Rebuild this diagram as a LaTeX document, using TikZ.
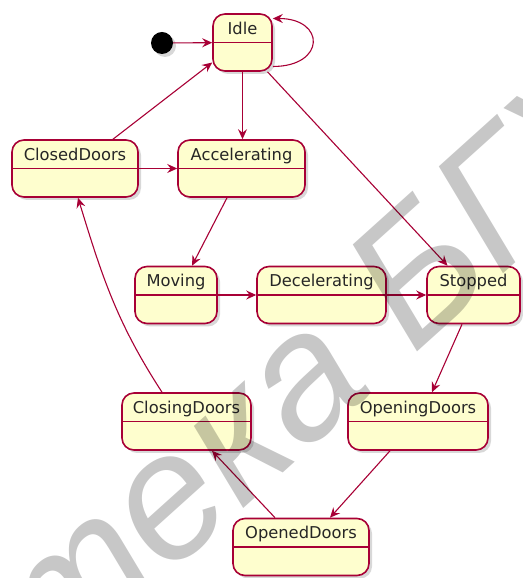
\documentclass[tikz,border=0pt]{standalone}
\usepackage{fontspec}
\setmainfont{DejaVu Sans}
\newfontfamily\wmfont{Liberation Sans}
\usetikzlibrary{arrows.meta,shadows,calc}
\definecolor{umlred}{HTML}{A80036}
\definecolor{umlfill}{HTML}{FEFECE}
\newcommand\umlstate[5]{%
  \node[statebox, minimum width=#4pt] (#1) at (#2,#3) {};
  \node[lbl, anchor=base] (#1-t) at ($(#1.center)+(0,8)$) {#5};
  \draw[divider] (#1.west) -- (#1.east);
}
\begin{document}
\begin{tikzpicture}[x=1pt,y=1pt,
  statebox/.style={draw=umlred, line width=1.6pt, fill=umlfill, rounded corners=12pt,
    minimum height=57pt, inner sep=0pt,
    drop shadow={shadow xshift=3pt,shadow yshift=-3pt,opacity=0.3}},
  divider/.style={draw=umlred, line width=1.2pt},
  arr/.style={draw=umlred, line width=1.1pt, -{Stealth[length=10pt,width=9pt,inset=3.5pt]}},
  lbl/.style={font=\fontsize{16.3}{18}\selectfont, text=black!85, inner sep=0pt},
  initdot/.style={circle, fill=black, minimum size=22pt, inner sep=0pt,
    drop shadow={shadow xshift=3pt,shadow yshift=-3pt,opacity=0.3}},
  watermark/.style={rotate=42, font=\wmfont\itshape\fontsize{178}{178}\selectfont,
    text=black, text opacity=0.22, anchor=base, inner sep=0pt}
]
\fill[white] (0,0) rectangle (522,578);
\useasboundingbox (0,0) rectangle (522,578);

\node[initdot] (init) at (162,535) {};
\umlstate{idle}{242.5}{535.5}{59}{Idle}
\umlstate{closed}{75}{409.5}{126}{ClosedDoors}
\umlstate{acc}{241.5}{409.5}{127}{Accelerating}
\umlstate{moving}{176}{283}{82}{Moving}
\umlstate{decel}{321.5}{283}{129}{Decelerating}
\umlstate{stopped}{473.5}{283}{93}{Stopped}
\umlstate{closing}{186.5}{156.5}{129}{ClosingDoors}
\umlstate{opening}{418}{156.5}{140}{OpeningDoors}
\umlstate{opened}{301}{31}{136}{OpenedDoors}

\draw[arr] (init) -- (idle);
\draw[arr] ([yshift=-24pt]idle.east) .. controls +(53,0) and +(53,0) .. ([yshift=24pt]idle.east);
\draw[arr] (idle.south) -- (idle.south |- acc.north);
\draw[arr] ([xshift=25pt]idle.south) -- ([xshift=-26pt]stopped.north);
\draw[arr] ([xshift=38pt]closed.north) -- ([yshift=-20pt]idle.west);
\draw[arr] (closed) -- (acc);
\draw[arr] ([xshift=-14.5pt]acc.south) -- ([xshift=16pt]moving.north);
\draw[arr] (moving) -- (decel);
\draw[arr] (decel) -- (stopped);
\draw[arr] ([xshift=-11.5pt]stopped.south) -- ([xshift=14pt]opening.north);
\draw[arr] ([xshift=-28pt]opening.south) -- ([xshift=29pt]opened.north);
\draw[arr] ([xshift=-26pt]opened.north) -- ([xshift=25.5pt]closing.south);
\draw[arr] ([xshift=-24.5pt]closing.north) to[out=123,in=-73] ([xshift=3pt]closed.south);

\node[watermark] (wm) at (377,190) {\llap{Библиотека}\rlap{ БГУИР}};
\end{tikzpicture}
\end{document}
